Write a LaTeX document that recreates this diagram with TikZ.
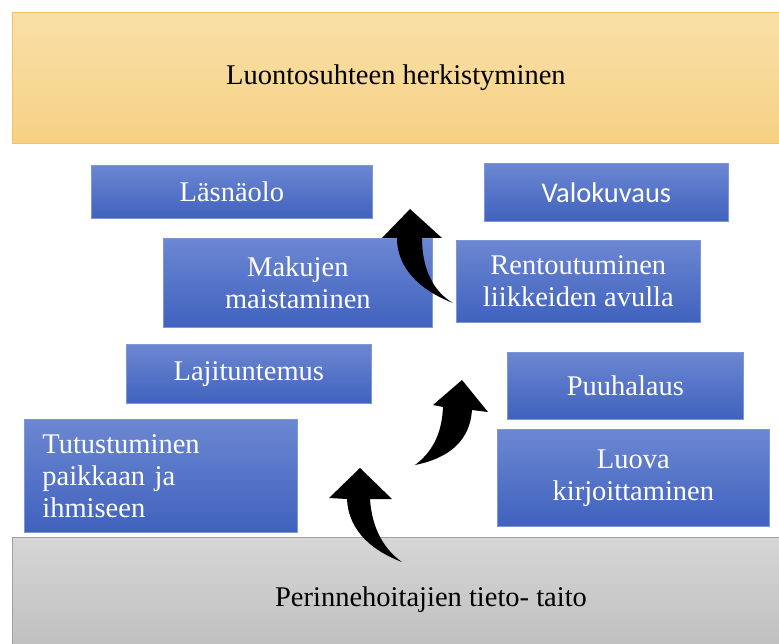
\documentclass[tikz,border=0pt]{standalone}
\usepackage{fontspec}
\setmainfont{Liberation Serif}
\newfontfamily\calibri{Carlito}
\definecolor{btop}{RGB}{108,135,210}
\definecolor{bbot}{RGB}{64,98,190}
\definecolor{bedge}{RGB}{125,150,212}
\definecolor{otop}{RGB}{249,224,168}
\definecolor{obot}{RGB}{246,209,132}
\definecolor{oedge}{RGB}{240,196,95}
\definecolor{gtop}{RGB}{214,214,214}
\definecolor{gbot}{RGB}{192,192,192}
\definecolor{gedge}{RGB}{160,160,160}
\tikzset{
  bbox/.style={draw=bedge, line width=0.7pt, top color=btop, bottom color=bbot,
    text=white, font=\fontsize{28.5}{32}\selectfont, align=center,
    inner sep=0pt, anchor=north west},
  bigbox/.style={line width=0.8pt, inner sep=0pt, anchor=north west,
    font=\fontsize{28.5}{32}\selectfont},
  blockarrow/.style={fill=black, draw=none}
}
\begin{document}
\begin{tikzpicture}[x=1pt,y=-1pt]
\useasboundingbox (0,0) rectangle (779,644);
\fill[white] (0,0) rectangle (779,644);
% top and bottom bands
\node[bigbox, draw=oedge, top color=otop, bottom color=obot,
  minimum width=767pt, minimum height=131pt] (top) at (12,12)
  {Luontosuhteen herkistyminen};
\node[bigbox, draw=gedge, top color=gtop, bottom color=gbot,
  minimum width=767pt, minimum height=107pt] (bottom) at (12,537) {};
\node[font=\fontsize{28.5}{32}\selectfont, anchor=base, inner sep=0pt] (bottomtext)
  at (431,606) {Perinnehoitajien tieto- taito};
% blue boxes
\node[bbox, minimum width=281pt, minimum height=53pt] (lasna) at (91,165) {Läsnäolo};
\node[bbox, minimum width=244pt, minimum height=58pt, font=\calibri\fontsize{28.5}{32}\selectfont] (valo) at (484,163) {Valokuvaus};
\node[bbox, minimum width=269pt, minimum height=89pt] (maku) at (163,238) {Makujen\\maistaminen};
\node[bbox, minimum width=244pt, minimum height=82pt] (rento) at (456,240) {Rentoutuminen\\liikkeiden avulla};
\node[bbox, minimum width=245pt, minimum height=59pt] (laji) at (126,344) {Lajituntemus};
\node[bbox, minimum width=236pt, minimum height=67pt] (puuha) at (507,352) {Puuhalaus};
\node[bbox, minimum width=273pt, minimum height=113pt, align=left, text width=237pt] (tutu) at (24,419) {Tutustuminen\\paikkaan ja\\ihmiseen};
\node[bbox, minimum width=272pt, minimum height=97pt] (luova) at (497,429) {Luova\\kirjoittaminen};
% curved block arrows
\fill[blockarrow] (410,209) -- (442,238) -- (422,238)
  .. controls (422,270) and (434,292) .. (453,303)
  .. controls (412,287) and (397,262) .. (397,238)
  -- (382,238) -- cycle;
\fill[blockarrow] (462,380) -- (488,412) -- (472,410)
  .. controls (470,440) and (450,458) .. (415,465)
  .. controls (435,450) and (442,430) .. (443,407)
  -- (433,405) -- cycle;
\fill[blockarrow] (360,468) -- (392,499) -- (370,499)
  .. controls (372,530) and (385,550) .. (402,562)
  .. controls (365,548) and (348,525) .. (347,499)
  -- (329,498) -- cycle;
\end{tikzpicture}
\end{document}
